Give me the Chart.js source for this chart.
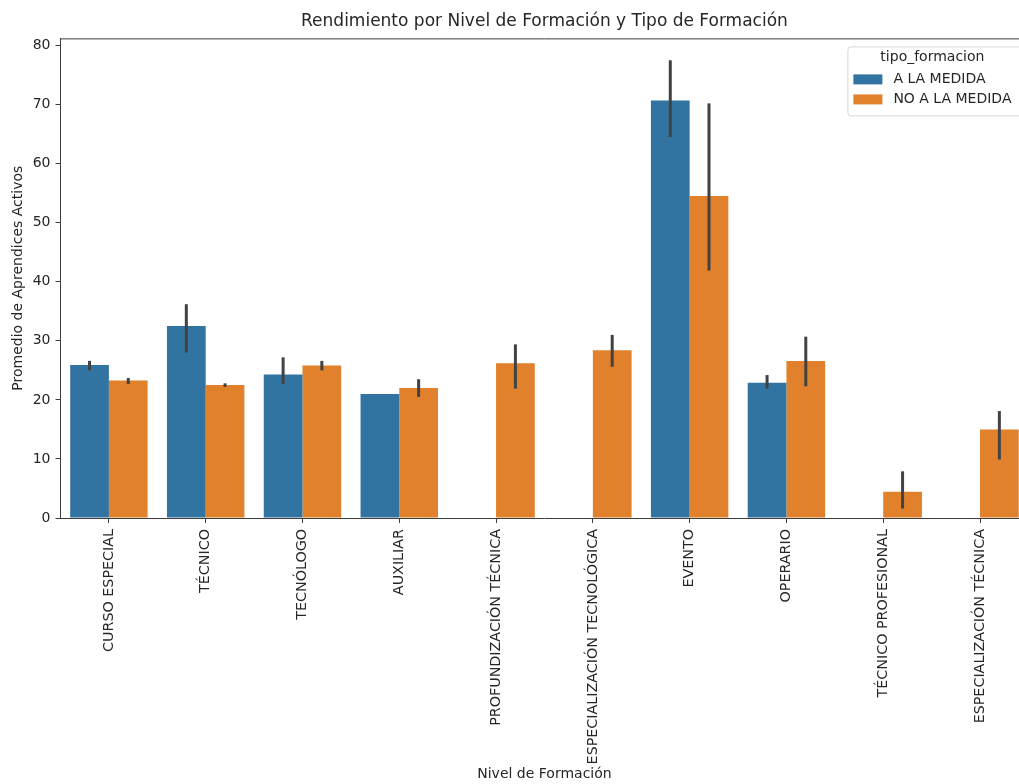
<!DOCTYPE html>
<html>
<head>
<meta charset="utf-8">
<script src="https://cdn.jsdelivr.net/npm/chart.js@4.4.1/dist/chart.umd.min.js"></script>
<style>
  html, body { margin: 0; padding: 0; background: #ffffff; overflow: hidden; }
  #wrap { width: 1019px; height: 784px; overflow: hidden; }
  canvas { display: block; }
</style>
</head>
<body>
<div id="wrap"><canvas id="chart" width="1045" height="784"></canvas></div>
<script>
// Training levels shown on the x axis
const categories = [
  'CURSO ESPECIAL', 'TÉCNICO', 'TECNÓLOGO', 'AUXILIAR', 'PROFUNDIZACIÓN TÉCNICA',
  'ESPECIALIZACIÓN TECNOLÓGICA', 'EVENTO', 'OPERARIO', 'TÉCNICO PROFESIONAL', 'ESPECIALIZACIÓN TÉCNICA'
];
const seriesNames = ['A LA MEDIDA', 'NO A LA MEDIDA'];

// Mean active learners, "A LA MEDIDA"
const aLaMedida     = [25.9, 32.5, 24.3, 21.0, null, null, 70.7, 22.9, null, null];
const aLaMedidaLow  = [25.0, 28.0, 22.7, 21.0, null, null, 64.5, 21.9, null, null];
const aLaMedidaHigh = [26.6, 36.2, 27.2, 21.0, null, null, 77.5, 24.2, null, null];

// Mean active learners, "NO A LA MEDIDA"
const noALaMedida     = [23.3, 22.5, 25.8, 22.0, 26.2, 28.4, 54.5, 26.6, 4.45, 15.0];
const noALaMedidaLow  = [22.7, 22.2, 25.0, 20.5, 21.9, 25.6, 41.9, 22.3, 1.6, 9.9];
const noALaMedidaHigh = [23.7, 22.8, 26.6, 23.5, 29.4, 31.0, 70.2, 30.7, 7.9, 18.1];

const yTicks = [0, 10, 20, 30, 40, 50, 60, 70, 80];

const COLORS = ['#3274a1', '#e1812c'];
const FONT = 'DejaVu Sans';
const TEXT = '#262626';
const SPINE = '#3d3d3d';

// Confidence interval whiskers drawn over each bar
const errorBars = {
  id: 'errorBars',
  afterDatasetsDraw(chart) {
    const ctx = chart.ctx;
    const y = chart.scales.y;
    ctx.save();
    ctx.strokeStyle = '#424242';
    ctx.lineWidth = 3;
    chart.data.datasets.forEach((ds, i) => {
      const meta = chart.getDatasetMeta(i);
      meta.data.forEach((bar, j) => {
        const lo = ds.errLow[j], hi = ds.errHigh[j];
        if (lo == null || hi == null || hi - lo < 0.05) return;
        ctx.beginPath();
        ctx.moveTo(bar.x, y.getPixelForValue(lo));
        ctx.lineTo(bar.x, y.getPixelForValue(hi));
        ctx.stroke();
      });
    });
    ctx.restore();
  }
};

// Axes frame (top and right spines) and the boxed legend in the upper right
const frameAndLegend = {
  id: 'frameAndLegend',
  afterDraw(chart) {
    const ctx = chart.ctx;
    const a = chart.chartArea;
    ctx.save();
    ctx.strokeStyle = SPINE;
    ctx.lineWidth = 1;
    ctx.beginPath();
    ctx.moveTo(a.left, a.top + 0.5);
    ctx.lineTo(a.right, a.top + 0.5);
    ctx.lineTo(a.right, a.bottom);
    ctx.stroke();

    // legend box
    const bw = 174, bh = 69;
    const bx = a.right - 7 - bw, by = a.top + 8;
    ctx.fillStyle = 'rgba(255,255,255,0.8)';
    ctx.strokeStyle = '#d6d6d6';
    ctx.beginPath();
    ctx.roundRect(bx + 0.5, by + 0.5, bw, bh, 3);
    ctx.fill();
    ctx.stroke();

    ctx.font = '14px "' + FONT + '"';
    ctx.fillStyle = TEXT;
    ctx.textBaseline = 'middle';
    ctx.textAlign = 'center';
    ctx.fillText('tipo_formacion', bx + bw / 2 - 2, by + 11);
    ctx.textAlign = 'left';
    seriesNames.forEach((name, i) => {
      const cy = by + 33 + i * 20;
      ctx.fillStyle = COLORS[i];
      ctx.fillRect(bx + 6, cy - 5, 29, 10);
      ctx.fillStyle = TEXT;
      ctx.fillText(name, bx + 46, cy);
    });
    ctx.restore();
  }
};

new Chart(document.getElementById('chart'), {
  type: 'bar',
  data: {
    labels: categories,
    datasets: [
      { label: seriesNames[0], data: aLaMedida, errLow: aLaMedidaLow, errHigh: aLaMedidaHigh,
        backgroundColor: COLORS[0] },
      { label: seriesNames[1], data: noALaMedida, errLow: noALaMedidaLow, errHigh: noALaMedidaHigh,
        backgroundColor: COLORS[1] }
    ]
  },
  options: {
    responsive: false,
    animation: false,
    devicePixelRatio: 1,
    layout: { padding: { left: 0, right: 16.6, top: 0, bottom: 0 } },
    datasets: { bar: { categoryPercentage: 0.8, barPercentage: 1.0, borderWidth: 0 } },
    plugins: {
      legend: { display: false },
      tooltip: { enabled: false },
      title: {
        display: true,
        fullSize: false,
        text: 'Rendimiento por Nivel de Formación y Tipo de Formación',
        color: TEXT,
        font: { family: FONT, size: 17, weight: 'normal' },
        padding: { top: 11, bottom: 7 }
      }
    },
    scales: {
      x: {
        grid: { display: true, offset: false, drawOnChartArea: false, drawTicks: true, tickLength: 5, color: SPINE },
        border: { display: true, color: SPINE, width: 1 },
        ticks: {
          color: TEXT, font: { family: FONT, size: 14.3 },
          minRotation: 90, maxRotation: 90, autoSkip: false, padding: 6
        },
        title: {
          display: true, text: 'Nivel de Formación', color: TEXT,
          font: { family: FONT, size: 14 }, padding: { top: 0, bottom: 1 }
        },
        afterFit(scale) { scale.height = 266; }
      },
      y: {
        min: 0, max: 81.2,
        grid: { display: true, drawOnChartArea: false, drawTicks: true, tickLength: 5, color: SPINE },
        border: { display: true, color: SPINE, width: 1 },
        ticks: { stepSize: 10, color: TEXT, font: { family: FONT, size: 14 }, padding: 5 },
        afterBuildTicks(scale) { scale.ticks = yTicks.map(v => ({ value: v })); },
        title: {
          display: true, text: 'Promedio de Aprendices Activos', color: TEXT,
          font: { family: FONT, size: 14 }, padding: { top: 10, bottom: 0 }
        },
        afterFit(scale) { scale.width = 60.5; }
      }
    }
  },
  plugins: [errorBars, frameAndLegend]
});
</script>
</body>
</html>
